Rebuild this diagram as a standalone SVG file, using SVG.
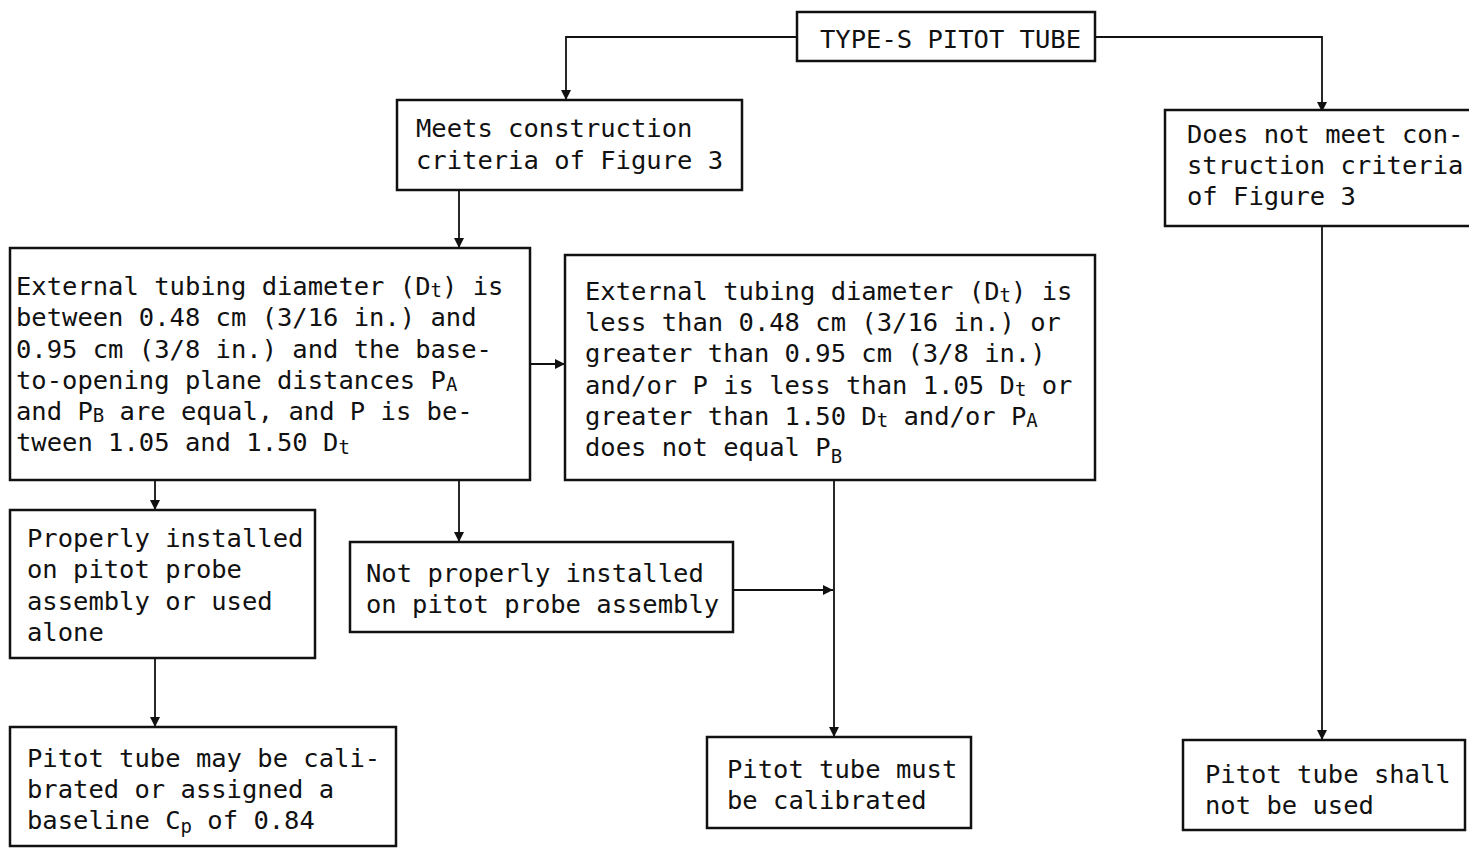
<svg xmlns="http://www.w3.org/2000/svg" width="1469" height="848" viewBox="0 0 1469 848">
<defs>
<marker id="arr" viewBox="0 0 10 10" refX="10" refY="5" markerWidth="10" markerHeight="10" markerUnits="userSpaceOnUse" orient="auto">
<path d="M0,0 L10,5 L0,10 z" fill="#111"/>
</marker>
<style>
.box{fill:#fff;stroke:#111;stroke-width:2.5}
.t{font-family:"DejaVu Sans Mono","Liberation Mono",monospace;font-size:25.5px;fill:#111}
.s{font-size:19px}
.c{fill:none;stroke:#111;stroke-width:1.8;marker-end:url(#arr)}
</style>
</defs>
<rect width="1469" height="848" fill="#fff"/>
<g id="connectors">
<path class="c" d="M797,37 H566 V100"/>
<path class="c" d="M1095,37 H1322 V112"/>
<path class="c" d="M459,190 V248"/>
<path class="c" d="M530,364 H565"/>
<path class="c" d="M155,480 V510"/>
<path class="c" d="M459,480 V542"/>
<path class="c" d="M733,590 H833"/>
<path class="c" d="M834,480 V737"/>
<path class="c" d="M155,658 V727"/>
<path class="c" d="M1322,226 V740"/>
</g>
<g id="n-top">
<rect class="box" x="797" y="12" width="298" height="49"/>
<text class="t" x="820" y="48">TYPE-S PITOT TUBE</text>
</g>
<g id="n-meets">
<rect class="box" x="397" y="100" width="345" height="90"/>
<text class="t" x="416" y="137">Meets construction</text>
<text class="t" x="416" y="169">criteria of Figure 3</text>
</g>
<g id="n-notmeets">
<rect class="box" x="1165" y="110" width="310" height="116"/>
<text class="t" x="1187" y="143">Does not meet con-</text>
<text class="t" x="1187" y="174">struction criteria</text>
<text class="t" x="1187" y="205">of Figure 3</text>
</g>
<g id="n-within">
<rect class="box" x="10" y="248" width="520" height="232"/>
<text class="t" x="16" y="295">External tubing diameter (D<tspan class="s" dy="2">t</tspan><tspan dy="-2">) is</tspan></text>
<text class="t" x="16" y="326">between 0.48 cm (3/16 in.) and</text>
<text class="t" x="16" y="358">0.95 cm (3/8 in.) and the base-</text>
<text class="t" x="16" y="389">to-opening plane distances P<tspan class="s" dy="2">A</tspan></text>
<text class="t" x="16" y="420">and P<tspan class="s" dy="2">B</tspan><tspan dy="-2"> are equal, and P is be-</tspan></text>
<text class="t" x="16" y="451">tween 1.05 and 1.50 D<tspan class="s" dy="3">t</tspan></text>
</g>
<g id="n-outside">
<rect class="box" x="565" y="255" width="530" height="225"/>
<text class="t" x="585" y="300">External tubing diameter (D<tspan class="s" dy="2">t</tspan><tspan dy="-2">) is</tspan></text>
<text class="t" x="585" y="331">less than 0.48 cm (3/16 in.) or</text>
<text class="t" x="585" y="362">greater than 0.95 cm (3/8 in.)</text>
<text class="t" x="585" y="394">and/or P is less than 1.05 D<tspan class="s" dy="2">t</tspan><tspan dy="-2"> or</tspan></text>
<text class="t" x="585" y="425">greater than 1.50 D<tspan class="s" dy="2">t</tspan><tspan dy="-2"> and/or P</tspan><tspan class="s" dy="2">A</tspan></text>
<text class="t" x="585" y="456">does not equal P<tspan class="s" dy="7">B</tspan></text>
</g>
<g id="n-proper">
<rect class="box" x="10" y="510" width="305" height="148"/>
<text class="t" x="27" y="547">Properly installed</text>
<text class="t" x="27" y="578">on pitot probe</text>
<text class="t" x="27" y="610">assembly or used</text>
<text class="t" x="27" y="641">alone</text>
</g>
<g id="n-notproper">
<rect class="box" x="350" y="542" width="383" height="90"/>
<text class="t" x="366" y="582">Not properly installed</text>
<text class="t" x="366" y="613">on pitot probe assembly</text>
</g>
<g id="n-may">
<rect class="box" x="10" y="727" width="386" height="119"/>
<text class="t" x="27" y="767">Pitot tube may be cali-</text>
<text class="t" x="27" y="798">brated or assigned a</text>
<text class="t" x="27" y="829">baseline C<tspan class="s" dy="4">p</tspan><tspan dy="-4"> of 0.84</tspan></text>
</g>
<g id="n-must">
<rect class="box" x="707" y="737" width="264" height="91"/>
<text class="t" x="727" y="778">Pitot tube must</text>
<text class="t" x="727" y="809">be calibrated</text>
</g>
<g id="n-shall">
<rect class="box" x="1183" y="740" width="282" height="90"/>
<text class="t" x="1205" y="783">Pitot tube shall</text>
<text class="t" x="1205" y="814">not be used</text>
</g>
</svg>
